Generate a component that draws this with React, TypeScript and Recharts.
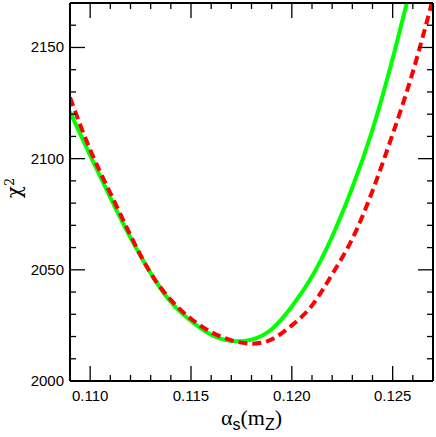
import { LineChart, Line, XAxis, YAxis } from 'recharts'

// ── Data ─────────────────────────────────────────────────────────────────────

const alphaS = [
  0.109, 0.11, 0.111, 0.112, 0.113, 0.114, 0.115, 0.116, 0.117, 0.118,
  0.119, 0.12, 0.121, 0.122, 0.123, 0.124, 0.125, 0.126, 0.127,
]

// green solid curve
const chi2Solid = [
  2121, 2101.5, 2082.5, 2064.5, 2048.5, 2035.5, 2027, 2020.8, 2018.0, 2018.6,
  2023.3, 2033.5, 2047, 2065, 2087, 2113, 2145, 2181, null,
]

// red dashed curve
const chi2Dashed = [
  2127.5, 2104, 2084.5, 2065.5, 2048.5, 2036.5, 2028, 2022, 2018.3, 2016.8,
  2018.7, 2025, 2034, 2048, 2064, 2085.5, 2111, 2139, 2172,
]

const xMajor = [0.11, 0.115, 0.12, 0.125]
const xTicks = [
  0.109, 0.11, 0.111, 0.112, 0.113, 0.114, 0.115, 0.116, 0.117, 0.118,
  0.119, 0.12, 0.121, 0.122, 0.123, 0.124, 0.125, 0.126,
]
const yMajor = [2000, 2050, 2100, 2150]
const yTicks = [
  2000, 2010, 2020, 2030, 2040, 2050, 2060, 2070, 2080, 2090,
  2100, 2110, 2120, 2130, 2140, 2150, 2160, 2170,
]

const data = alphaS.map((a, i) => ({
  a,
  solid: chi2Solid[i],
  dashed: chi2Dashed[i],
}))

// ── Helpers ───────────────────────────────────────────────────────────────────

const MAJOR = 15
const MINOR = 6
const labelFont = { fontFamily: '"Liberation Sans", Arial, sans-serif', fontSize: 15, fill: '#000' }

const isMajor = (list: number[], v: number) => list.some((m) => Math.abs(m - v) < 1e-9)

// inward tick marks, drawn from the axis position the library hands us
function makeTick(side: 'bottom' | 'top' | 'left' | 'right') {
  return (props: any) => {
    const { x, y, payload } = props
    const v = payload.value as number
    const horiz = side === 'bottom' || side === 'top'
    const major = isMajor(horiz ? xMajor : yMajor, v)
    const len = major ? MAJOR : MINOR
    let line
    if (side === 'bottom') line = <line x1={x} x2={x} y1={y} y2={y - len} />
    else if (side === 'top') line = <line x1={x} x2={x} y1={y} y2={y + len} />
    else if (side === 'left') line = <line x1={x} x2={x + len} y1={y} y2={y} />
    else line = <line x1={x} x2={x - len} y1={y} y2={y} />
    return (
      <g stroke="#000" strokeWidth={1.3}>
        {line}
        {major && side === 'bottom' && (
          <text x={x} y={y + 20} textAnchor="middle" stroke="none" style={labelFont}>
            {v.toFixed(3)}
          </text>
        )}
        {major && side === 'left' && (
          <text x={x - 6} y={y + 5} textAnchor="end" stroke="none" style={labelFont}>
            {v}
          </text>
        )}
      </g>
    )
  }
}

// ── Component ─────────────────────────────────────────────────────────────────

export default function App() {
  return (
    <div style={{ position: 'absolute', left: 0, top: 0, width: 436, height: 437, background: '#fff' }}>
      <LineChart width={436} height={437} data={data} margin={{ top: 2, right: 2, bottom: 0, left: 0 }}>
        <XAxis
          xAxisId="b"
          dataKey="a"
          type="number"
          domain={[0.109, 0.127]}
          allowDataOverflow
          ticks={xTicks}
          interval={0}
          height={56}
          tickSize={0}
          tickMargin={0}
          tickLine={false}
          tick={makeTick('bottom')}
          axisLine={{ stroke: '#000', strokeWidth: 2 }}
          label={{
            content: ({ viewBox }: any) => (
              <text
                x={viewBox.x + viewBox.width / 2}
                y={viewBox.y + 44}
                textAnchor="middle"
                style={{ fontFamily: '"Liberation Serif", serif', fontSize: 22, fill: '#000' }}
              >
                <tspan>α</tspan>
                <tspan dy={5} fontSize={16} fontFamily='"Liberation Sans", sans-serif'>s</tspan>
                <tspan dy={-5}>(m</tspan>
                <tspan dy={5} fontSize={16} fontFamily='"Liberation Sans", sans-serif'>Z</tspan>
                <tspan dy={-5}>)</tspan>
              </text>
            ),
          }}
        />
        <XAxis
          xAxisId="t"
          dataKey="a"
          type="number"
          orientation="top"
          domain={[0.109, 0.127]}
          allowDataOverflow
          ticks={xTicks}
          interval={0}
          height={1}
          tickSize={0}
          tickMargin={0}
          tickLine={false}
          tick={makeTick('top')}
          axisLine={{ stroke: '#000', strokeWidth: 2 }}
        />
        <YAxis
          yAxisId="l"
          type="number"
          domain={[2000, 2170]}
          allowDataOverflow
          ticks={yTicks}
          interval={0}
          width={70}
          tickSize={0}
          tickMargin={0}
          tickLine={false}
          tick={makeTick('left')}
          axisLine={{ stroke: '#000', strokeWidth: 2 }}
          label={{
            content: ({ viewBox }: any) => {
              const cx = viewBox.x + 21
              const cy = viewBox.y + viewBox.height / 2 - 4
              return (
                <text
                  x={cx}
                  y={cy}
                  transform={`rotate(-90 ${cx} ${cy})`}
                  textAnchor="middle"
                  style={{ fontFamily: '"DejaVu Serif", serif', fontSize: 20, fill: '#000' }}
                >
                  <tspan>χ</tspan>
                  <tspan dy={-7} fontSize={13}>2</tspan>
                </text>
              )
            },
          }}
        />
        <YAxis
          yAxisId="r"
          type="number"
          orientation="right"
          domain={[2000, 2170]}
          allowDataOverflow
          ticks={yTicks}
          interval={0}
          width={1}
          tickSize={0}
          tickMargin={0}
          tickLine={false}
          tick={makeTick('right')}
          axisLine={{ stroke: '#000', strokeWidth: 2 }}
        />
        <Line
          xAxisId="b"
          yAxisId="l"
          type="natural"
          dataKey="solid"
          stroke="#00ff00"
          strokeWidth={4}
          dot={false}
          connectNulls={false}
          isAnimationActive={false}
        />
        <Line
          xAxisId="b"
          yAxisId="l"
          type="natural"
          dataKey="dashed"
          stroke="#ff0000"
          strokeWidth={4}
          strokeDasharray="9 5"
          dot={false}
          isAnimationActive={false}
        />
      </LineChart>
    </div>
  )
}
